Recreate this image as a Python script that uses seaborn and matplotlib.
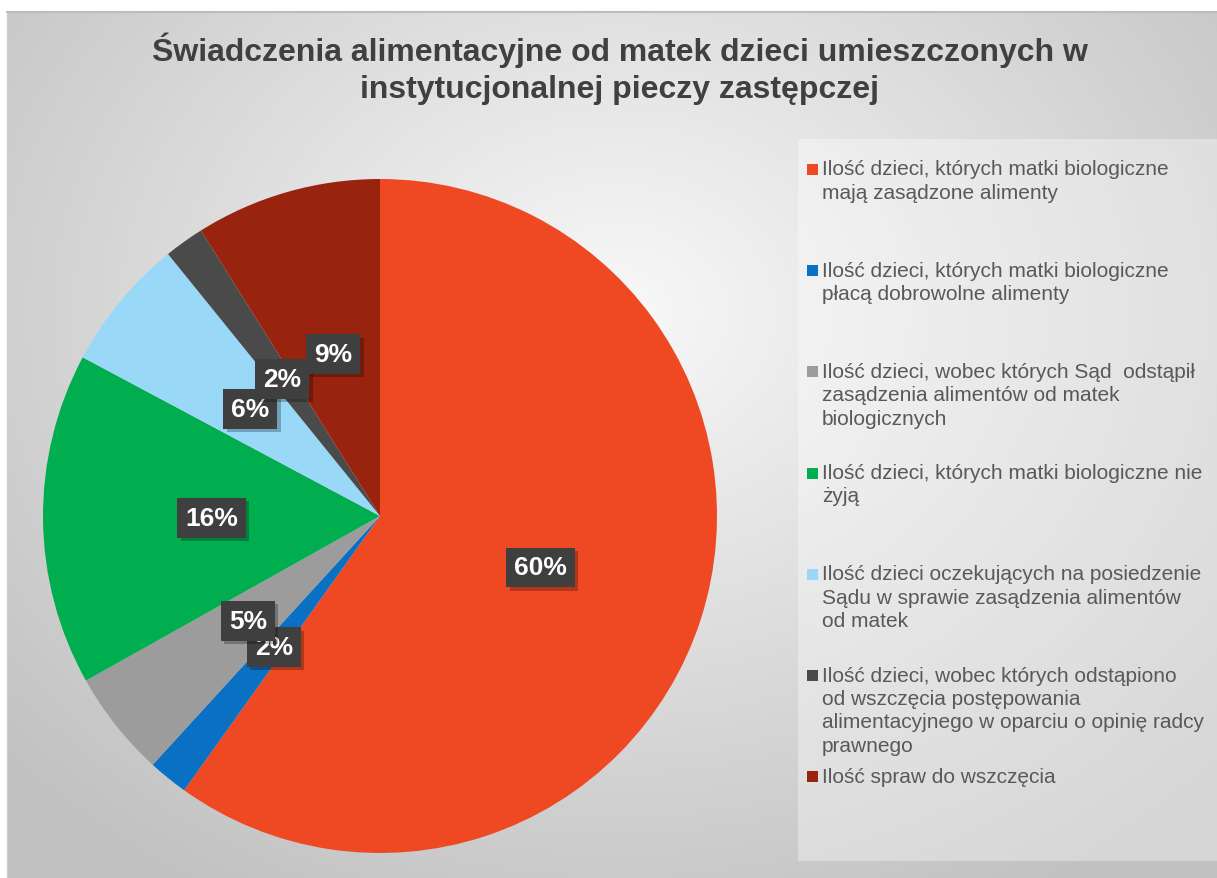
import numpy as np
import matplotlib
matplotlib.use("Agg")
import matplotlib.pyplot as plt
import matplotlib.patheffects as pe
from matplotlib.patches import Rectangle
import seaborn as sns

# ---- data ----
categories = [
    "Ilość dzieci, których matki biologiczne\nmają zasądzone alimenty",
    "Ilość dzieci, których matki biologiczne\npłacą dobrowolne alimenty",
    "Ilość dzieci, wobec których Sąd  odstąpił\nzasądzenia alimentów od matek\nbiologicznych",
    "Ilość dzieci, których matki biologiczne nie\nżyją",
    "Ilość dzieci oczekujących na posiedzenie\nSądu w sprawie zasądzenia alimentów\nod matek",
    "Ilość dzieci, wobec których odstąpiono\nod wszczęcia postępowania\nalimentacyjnego w oparciu o opinię radcy\nprawnego",
    "Ilość spraw do wszczęcia",
]
values = [94, 3, 8, 25, 10, 3, 14]
colors = ["#EE4923", "#0A70C4", "#9C9C9C", "#00AE4F", "#99D8F7", "#4A4A4A", "#98240F"]
title = "Świadczenia alimentacyjne od matek dzieci umieszczonych w\ninstytucjonalnej pieczy zastępczej"

sns.set_theme(style="white")
plt.rcParams["font.family"] = ["Liberation Sans", "DejaVu Sans"]
palette = sns.color_palette(colors)

W, H = 1217, 879
fig = plt.figure(figsize=(W / 100, H / 100), dpi=100)
fig.patch.set_facecolor("white")

# background gradient of chart area
bg = fig.add_axes([7 / W, 0, 1 - 7 / W, (H - 13) / H])
yy, xx = np.mgrid[0:866, 0:1210]
d = np.sqrt(((xx - 610) / 760.0) ** 2 + ((yy - 300) / 620.0) ** 2)
shade = np.clip(0.975 - 0.20 * d, 0.76, 1.0)
img = np.dstack([shade, shade, shade])
bg.imshow(img, aspect="auto", extent=[0, 1, 0, 1], origin="upper", interpolation="bilinear")
bg.set_xlim(0, 1)
bg.set_ylim(0, 1)
bg.set_xticks([])
bg.set_yticks([])
for s in ["right", "bottom"]:
    bg.spines[s].set_visible(False)
bg.spines["top"].set_color("#bcbcbc")
bg.spines["top"].set_linewidth(1.5)
bg.spines["left"].set_color("#cfcfcf")
bg.spines["left"].set_linewidth(1.0)

# legend box
fig.add_artist(Rectangle((798 / W, 1 - 862 / H), (W - 798) / W, (862 - 140) / H,
                         transform=fig.transFigure, facecolor="white", alpha=0.35,
                         edgecolor="none", zorder=1))

# pie
ax = fig.add_axes([43 / W, 1 - 854 / H, 674 / W, 674 / H])
wedges, texts, autotexts = ax.pie(
    values, colors=palette, startangle=90, counterclock=False,
    autopct="%.0f%%", pctdistance=0.5,
    wedgeprops=dict(linewidth=0),
    textprops=dict(color="white", fontsize=19, fontweight="bold"),
)
ax.set_xlim(-1, 1)
ax.set_ylim(-1, 1)
ax.set_aspect("equal")
ax.axis("off")
for t in autotexts:
    t.set_bbox(dict(boxstyle="square,pad=0.3", facecolor="#3f3f3f", edgecolor="none"))
    t.get_bbox_patch().set_path_effects([
        pe.SimplePatchShadow(offset=(2.5, -2.5), shadow_rgbFace="black", alpha=0.25),
        pe.Normal(),
    ])

# title
fig.text(620 / W, 1 - 69 / H, title, ha="center", va="center", fontsize=23,
         fontweight="bold", color="#404040", linespacing=1.3)

# legend (manual so that markers align with first line)
y0 = 176
slot = 101.2
for i, (lab, c) in enumerate(zip(categories, palette)):
    yb = y0 + i * slot
    fig.text(822 / W, 1 - (yb - 15.5) / H, lab, ha="left", va="top", fontsize=15,
             color="#595959", linespacing=1.29)
    fig.add_artist(Rectangle((807 / W, 1 - yb / H), 11 / W, 11 / H,
                             transform=fig.transFigure, facecolor=c, edgecolor="none"))

fig.savefig("out.png", dpi=100)
